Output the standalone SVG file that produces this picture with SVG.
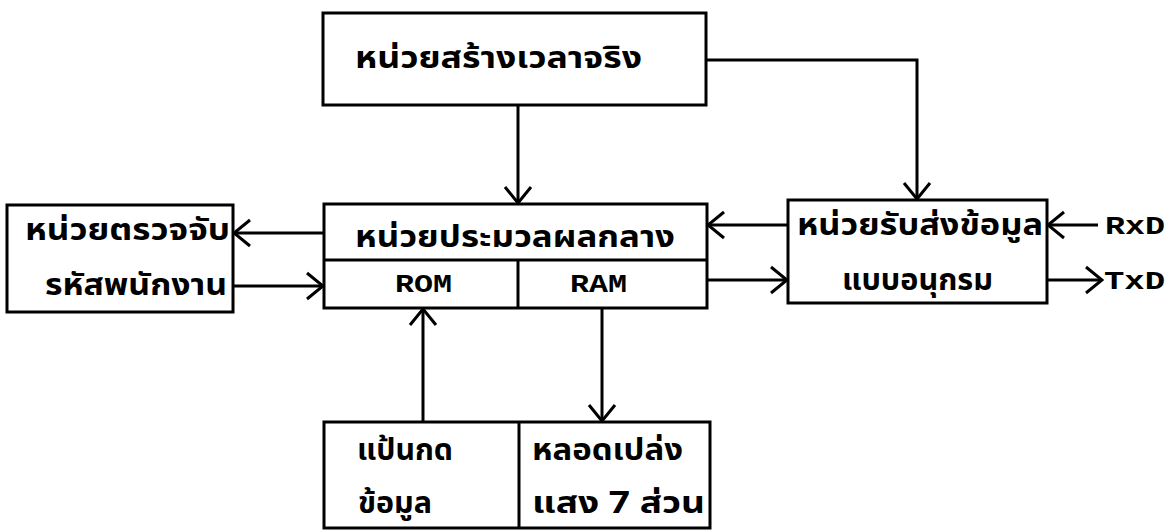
<svg xmlns="http://www.w3.org/2000/svg" width="1176" height="531" viewBox="0 0 1176 531">
<style>
.box{fill:none;stroke:#000;stroke-width:3}
.ln{fill:none;stroke:#000;stroke-width:3}
.th{font-family:"Noto Sans Thai","Noto Sans","DejaVu Sans",sans-serif;font-weight:bold;font-size:30px;fill:#000}
.en{font-family:"Liberation Mono","DejaVu Sans Mono",monospace;font-weight:bold;font-size:25px;fill:#000}
</style>
<defs>
<marker id="ah" viewBox="0 0 20 30" refX="18" refY="15" markerWidth="20" markerHeight="30" markerUnits="userSpaceOnUse" orient="auto">
<path d="M2,2 L18,15 L2,28" fill="none" stroke="#000" stroke-width="3"/>
</marker>
</defs>
<rect width="1176" height="531" fill="#fff"/>
<g id="rtc">
<rect class="box" x="323" y="13" width="383" height="92"/>
<text class="th" x="355" y="68" textLength="287" lengthAdjust="spacingAndGlyphs">หน่วยสร้างเวลาจริง</text>
</g>
<g id="cpu">
<rect class="box" x="324" y="204" width="383" height="104"/>
<line class="ln" x1="324" y1="260" x2="707" y2="260"/>
<line class="ln" x1="518" y1="260" x2="518" y2="308"/>
<text class="th" x="355" y="247" textLength="320" lengthAdjust="spacingAndGlyphs">หน่วยประมวลผลกลาง</text>
<text class="en" x="395" y="292" textLength="57" lengthAdjust="spacingAndGlyphs">ROM</text>
<text class="en" x="570" y="292" textLength="57" lengthAdjust="spacingAndGlyphs">RAM</text>
</g>
<g id="idreader">
<rect class="box" x="7" y="205" width="226" height="107"/>
<text class="th" x="25" y="240" textLength="205" lengthAdjust="spacingAndGlyphs">หน่วยตรวจจับ</text>
<text class="th" x="45" y="295" textLength="182" lengthAdjust="spacingAndGlyphs">รหัสพนักงาน</text>
</g>
<g id="serial">
<rect class="box" x="788" y="200" width="259" height="103"/>
<text class="th" x="797" y="235" textLength="246" lengthAdjust="spacingAndGlyphs">หน่วยรับส่งข้อมูล</text>
<text class="th" x="842" y="290" textLength="151" lengthAdjust="spacingAndGlyphs">แบบอนุกรม</text>
</g>
<g id="bottom">
<rect class="box" x="324" y="422" width="386" height="106"/>
<line class="ln" x1="519" y1="422" x2="519" y2="528"/>
<text class="th" x="357" y="460" textLength="96" lengthAdjust="spacingAndGlyphs">แป้นกด</text>
<text class="th" x="358" y="513" textLength="74" lengthAdjust="spacingAndGlyphs">ข้อมูล</text>
<text class="th" x="532" y="460" textLength="151" lengthAdjust="spacingAndGlyphs">หลอดเปล่ง</text>
<text class="th" x="532" y="513" textLength="173" lengthAdjust="spacingAndGlyphs">แสง 7 ส่วน</text>
</g>
<g id="labels">
<text class="en" x="1105" y="234" textLength="60" lengthAdjust="spacingAndGlyphs">RxD</text>
<text class="en" x="1104" y="289" textLength="61" lengthAdjust="spacingAndGlyphs">TxD</text>
</g>
<g id="connectors">
<line class="ln" x1="518" y1="105" x2="518" y2="203" marker-end="url(#ah)"/>
<polyline class="ln" points="706,60 917,60 917,199" marker-end="url(#ah)"/>
<line class="ln" x1="324" y1="233" x2="234" y2="233" marker-end="url(#ah)"/>
<line class="ln" x1="233" y1="286" x2="323" y2="286" marker-end="url(#ah)"/>
<line class="ln" x1="788" y1="225" x2="708" y2="225" marker-end="url(#ah)"/>
<line class="ln" x1="707" y1="280" x2="787" y2="280" marker-end="url(#ah)"/>
<line class="ln" x1="1098" y1="225" x2="1048" y2="225" marker-end="url(#ah)"/>
<line class="ln" x1="1047" y1="280" x2="1102" y2="280" marker-end="url(#ah)"/>
<line class="ln" x1="423" y1="422" x2="423" y2="309" marker-end="url(#ah)"/>
<line class="ln" x1="602" y1="308" x2="602" y2="421" marker-end="url(#ah)"/>
</g>
</svg>
